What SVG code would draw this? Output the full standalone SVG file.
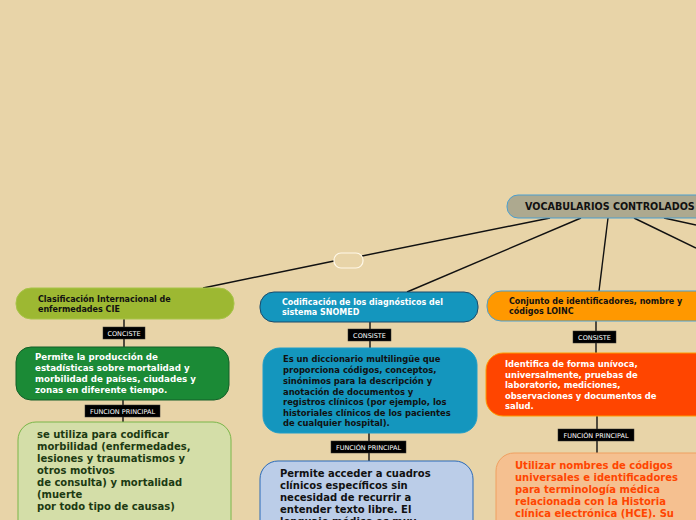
<svg xmlns="http://www.w3.org/2000/svg" width="696" height="520" viewBox="0 0 696 520">
<style>
text{font-family:"DejaVu Sans","Verdana",sans-serif;font-weight:bold}
.lbl rect{fill:#000;stroke:#333;stroke-width:0.5}
.lbl text{fill:#fff;font-weight:normal;font-size:6.5px;text-anchor:middle}
.c{stroke:#111;stroke-width:1.4;fill:none}
.t8{font-size:8px}
.t84{font-size:8.4px}
.t10{font-size:10px}
</style>
<rect x="0" y="0" width="696" height="520" fill="#E8D4A8"/>
<g id="connectors">
<line class="c" x1="550" y1="218" x2="362" y2="256"/>
<line class="c" x1="334" y1="261" x2="203" y2="288"/>
<line class="c" x1="581" y1="218" x2="407" y2="292"/>
<line class="c" x1="608" y1="218" x2="599" y2="291"/>
<line class="c" x1="634" y1="218" x2="696" y2="248"/>
<line class="c" x1="664" y1="218" x2="696" y2="225"/>
<line class="c" x1="124" y1="319" x2="124" y2="347"/>
<line class="c" x1="123" y1="400" x2="123" y2="422"/>
<line class="c" x1="370" y1="322" x2="370" y2="348"/>
<line class="c" x1="369" y1="433" x2="369" y2="461"/>
<line class="c" x1="596" y1="321" x2="596" y2="353"/>
<line class="c" x1="597" y1="416" x2="597" y2="453"/>
</g>
<g id="root">
<rect x="507" y="195" width="210" height="23" rx="11" fill="#ADA98F" stroke="#4A9FD0" stroke-width="1"/>
<text x="525" y="210" font-size="9.6" fill="#111">VOCABULARIOS CONTROLADOS</text>
</g>
<g id="blank">
<rect x="334" y="253" width="29" height="15" rx="7" fill="none" stroke="#FFF8E8" stroke-width="1.2"/>
</g>
<g id="cie">
<rect x="16" y="288" width="218" height="31" rx="15" fill="#9DB832" stroke="#A8C448"/>
<text class="t8" fill="#111"><tspan x="38" y="302">Clasificación Internacional de</tspan><tspan x="38" y="312">enfermedades CIE</tspan></text>
</g>
<g id="cie-lbl1" class="lbl"><rect x="103" y="327" width="42" height="12"/><text x="124" y="335.5">CONCISTE</text></g>
<g id="cie-consiste">
<rect x="16" y="347" width="213" height="53" rx="15" fill="#1B8A36" stroke="#145F28"/>
<text font-size="8.7" fill="#fff"><tspan x="35" y="360">Permite la producción de</tspan><tspan x="35" y="371">estadísticas sobre mortalidad y</tspan><tspan x="35" y="382">morbilidad de países, ciudades y</tspan><tspan x="35" y="393">zonas en diferente tiempo.</tspan></text>
</g>
<g id="cie-lbl2" class="lbl"><rect x="85" y="405" width="75" height="12"/><text x="122.5" y="413.5">FUNCION PRINCIPAL</text></g>
<g id="cie-funcion">
<rect x="18" y="422" width="213" height="120" rx="18" fill="#D4DEA8" stroke="#7AB648"/>
<text class="t10" fill="#1C3A12"><tspan x="37" y="438">se utiliza para codificar</tspan><tspan x="37" y="450">morbilidad (enfermedades,</tspan><tspan x="37" y="462">lesiones y traumatismos y</tspan><tspan x="37" y="474">otros motivos</tspan><tspan x="37" y="486">de consulta) y mortalidad</tspan><tspan x="37" y="498">(muerte</tspan><tspan x="37" y="510">por todo tipo de causas)</tspan></text>
</g>
<g id="snomed">
<rect x="260" y="292" width="218" height="30" rx="14" fill="#1496BE" stroke="#1A4A6A"/>
<text class="t8" fill="#fff"><tspan x="282" y="305">Codificación de los diagnósticos del</tspan><tspan x="282" y="315">sistema SNOMED</tspan></text>
</g>
<g id="snomed-lbl1" class="lbl"><rect x="348" y="329" width="43" height="12"/><text x="369.5" y="337.5">CONSISTE</text></g>
<g id="snomed-consiste">
<rect x="263" y="348" width="214" height="85" rx="17" fill="#1496BE" stroke="#1E9ECA"/>
<text class="t84" fill="#111"><tspan x="283" y="362">Es un diccionario multilingüe que</tspan><tspan x="283" y="373">proporciona códigos, conceptos,</tspan><tspan x="283" y="384">sinónimos  para la descripción y</tspan><tspan x="283" y="395">anotación de documentos y</tspan><tspan x="283" y="405">registros clínicos (por ejemplo, los</tspan><tspan x="283" y="416">historiales clínicos de los pacientes</tspan><tspan x="283" y="426">de cualquier hospital).</tspan></text>
</g>
<g id="snomed-lbl2" class="lbl"><rect x="331" y="441" width="75" height="12"/><text x="368.5" y="449.5">FUNCIÓN PRINCIPAL</text></g>
<g id="snomed-funcion">
<rect x="260" y="461" width="213" height="100" rx="18" fill="#BBCDE8" stroke="#2A6AB8"/>
<text class="t10" fill="#111"><tspan x="280" y="477">Permite acceder a cuadros</tspan><tspan x="280" y="489">clínicos específicos sin</tspan><tspan x="280" y="501">necesidad de recurrir a</tspan><tspan x="280" y="513">entender texto libre. El</tspan><tspan x="280" y="525">lenguaje médico es muy</tspan></text>
</g>
<g id="loinc">
<rect x="487" y="291" width="230" height="30" rx="14" fill="#FF9800" stroke="#4A9FD0"/>
<text class="t8" fill="#111"><tspan x="509" y="304">Conjunto de identificadores, nombre y</tspan><tspan x="509" y="314">códigos LOINC</tspan></text>
</g>
<g id="loinc-lbl1" class="lbl"><rect x="573" y="331" width="43" height="12"/><text x="594.5" y="339.5">CONSISTE</text></g>
<g id="loinc-consiste">
<rect x="486" y="353" width="230" height="63" rx="17" fill="#FF4500" stroke="#FF9A00"/>
<text class="t84" fill="#fff"><tspan x="505" y="367">Identifica de forma unívoca,</tspan><tspan x="505" y="378">universalmente, pruebas  de</tspan><tspan x="505" y="388">laboratorio, mediciones,</tspan><tspan x="505" y="399">observaciones y documentos de</tspan><tspan x="505" y="409">salud.</tspan></text>
</g>
<g id="loinc-lbl2" class="lbl"><rect x="558" y="429" width="76" height="12"/><text x="596" y="437.5">FUNCIÓN PRINCIPAL</text></g>
<g id="loinc-funcion">
<rect x="496" y="453" width="230" height="100" rx="18" fill="#F5C090" stroke="#F0A060"/>
<text class="t10" fill="#FF4500"><tspan x="515" y="469">Utilizar nombres de códigos</tspan><tspan x="515" y="481">universales e identificadores</tspan><tspan x="515" y="493">para terminología médica</tspan><tspan x="515" y="505">relacionada con la Historia</tspan><tspan x="515" y="517">clínica electrónica (HCE). Su</tspan></text>
</g>
</svg>
